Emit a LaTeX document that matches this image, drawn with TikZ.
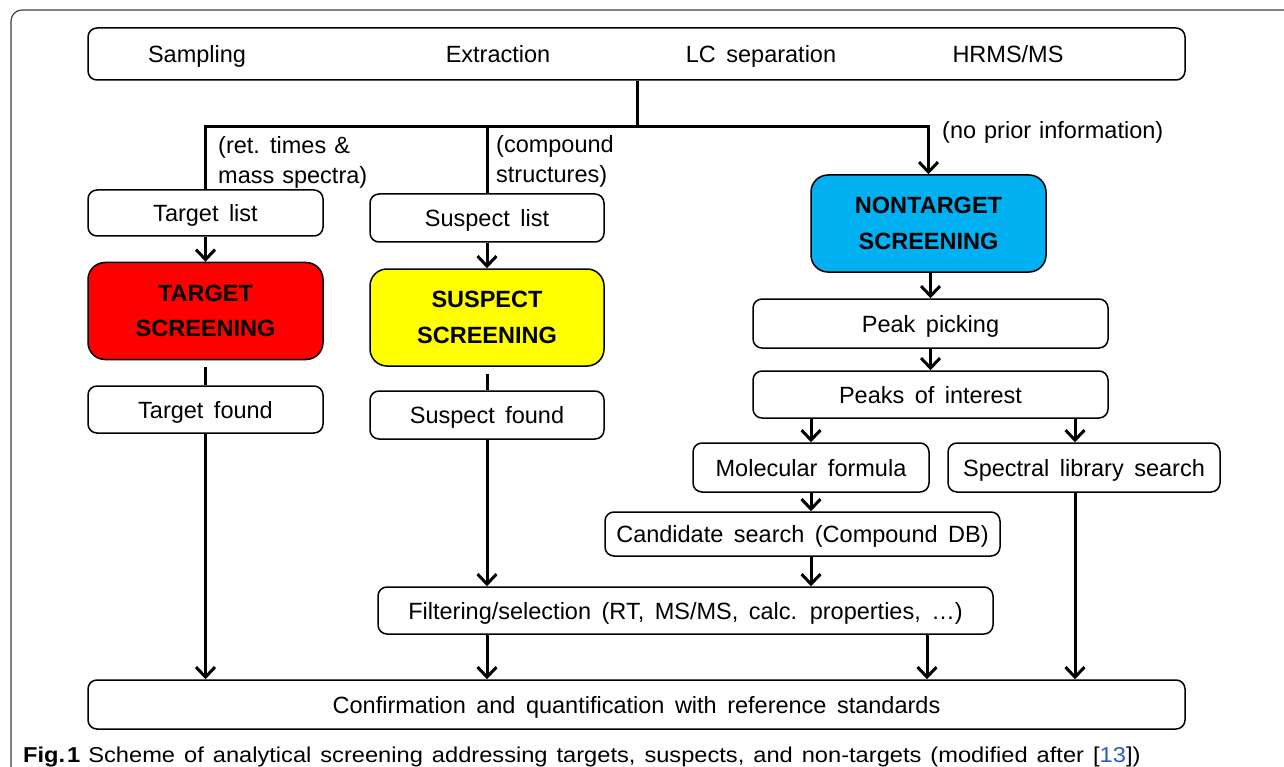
\documentclass[tikz,border=0pt]{standalone}
\usepackage{fontspec}
\setmainfont{Liberation Sans}
\newfontfamily\capfont[FakeStretch=1.1]{Liberation Sans}
\usetikzlibrary{positioning, arrows.meta}
\definecolor{scrred}{RGB}{255,0,0}
\definecolor{scryellow}{RGB}{255,255,0}
\definecolor{scrblue}{RGB}{0,176,240}
\definecolor{citeblue}{RGB}{40,90,200}
\newcommand{\boxfont}{\fontsize{23.5}{30}\selectfont\spaceskip 10.5pt plus 2pt minus 2pt\relax}
\newcommand{\notefont}{\fontsize{23.5}{30}\selectfont\spaceskip 8pt plus 2pt minus 2pt\relax}
\newcommand{\capsize}{\capfont\fontsize{21.5}{24}\selectfont\spaceskip 9pt plus 2pt minus 2pt\relax}

\begin{document}
\begin{tikzpicture}[x=1pt, y=-1pt,
    every node/.style={font=\boxfont},
    stage/.style={draw, line width=1.5pt, rounded corners=9pt, inner sep=0pt, minimum height=47pt, text height=17pt, text depth=0pt},
    screen/.style={draw, line width=1.5pt, rounded corners=17pt, inner sep=0pt, minimum width=235pt, minimum height=97pt, align=center, font=\fontsize{23.5}{35.5}\selectfont\bfseries},
    lbl/.style={inner sep=0pt, text height=17pt, text depth=0pt},
    note/.style={align=left, anchor=west, inner sep=0pt, font=\notefont},
    flow/.style={line width=3pt},
    flowto/.style={flow, -{Straight Barb[length=10pt, width=19pt]}}]
    \useasboundingbox (0,0) rectangle (1284,767);
    \draw[black!75, line width=1.2pt, rounded corners=11pt] (1300,10) -| (11,790);

    \node[stage, minimum width=1097pt, minimum height=52pt] (chain) at (636.5,54) {};
    \node[lbl] (sampling) at (197,54) {Sampling};
    \node[lbl] (extraction) at (498,54) {Extraction};
    \node[lbl] (lcsep) at (761,54) {LC separation};
    \node[lbl] (hrms) at (1008,54) {HRMS/MS};

    \node[stage, minimum width=235pt, minimum height=46pt] (tlist) at (205.5,213) {Target list};
    \node[screen, fill=scrred] (tscr) at (205.5,311) {TARGET\\SCREENING};
    \node[stage, minimum width=235pt] (tfound) at (205.5,409.5) {Target found};

    \node[stage, minimum width=234pt, minimum height=48pt] (slist) at (487,218) {Suspect list};
    \node[screen, fill=scryellow, minimum width=234pt] (sscr) at (487,317.5) {SUSPECT\\SCREENING};
    \node[stage, minimum width=234pt, minimum height=48pt] (sfound) at (487,415) {Suspect found};

    \node[screen, fill=scrblue] (nts) at (928.5,223.5) {NONTARGET\\SCREENING};
    \node[stage, minimum width=355pt, minimum height=49pt] (peak) at (930.5,323.5) {Peak picking};
    \node[stage, minimum width=355pt] (poi) at (930.5,394.5) {Peaks of interest};
    \node[stage, minimum width=236pt, minimum height=49pt] (molf) at (811,467.5) {Molecular formula};
    \node[stage, minimum width=272pt, minimum height=49pt] (spec) at (1084,467.5) {Spectral library search};
    \node[stage, minimum width=395pt, minimum height=44pt] (cand) at (802.5,534) {Candidate search (Compound DB)};
    \node[stage, minimum width=615pt] (filt) at (685.5,610.5) {Filtering/selection (RT, MS/MS, calc. properties, …)};
    \node[stage, minimum width=1097pt, minimum height=49pt] (conf) at (636.5,704.5) {Confirmation and quantification with reference standards};

    \node[note] (retnote) at (218,162) {(ret. times \&\\mass spectra)};
    \node[note] (cmpnote) at (496,161.5) {(compound\\structures)};
    \node[note, text height=17pt, text depth=4pt] (nonote) at (942,132) {(no prior information)};

    \coordinate (split) at (637,127);
    \coordinate (specx) at (1075,0);
    \coordinate (nontx) at (927,0);

    \draw[flow] (chain.south -| split) -- (split);
    \draw[flow] (split) -| (tlist.north);
    \draw[flow] (split -| slist.north) -- (slist.north);
    \draw[flowto] (split) -| (nts.north);

    \draw[flowto] (tlist) -- (tscr);
    \draw[flow, shorten <=7pt] (tscr) -- (tfound);
    \draw[flowto] (tfound.south) -- (tfound.south |- conf.north);

    \draw[flowto] (slist) -- (sscr);
    \draw[flow, shorten <=7pt] (sscr) -- (sfound);
    \draw[flowto] (sfound.south) -- (sfound.south |- filt.north);
    \draw[flowto] (sfound.south |- filt.south) -- (sfound.south |- conf.north);

    \draw[flowto] (nts.south -| peak.north) -- (peak.north);
    \draw[flowto] (peak) -- (poi);
    \draw[flowto] (poi.south -| molf.north) -- (molf.north);
    \draw[flowto] (poi.south -| specx) -- (spec.north -| specx);
    \draw[flowto] (molf.south) -- (molf.south |- cand.north);
    \draw[flowto] (molf.south |- cand.south) -- (molf.south |- filt.north);
    \draw[flowto] (filt.south -| nontx) -- (conf.north -| nontx);
    \draw[flowto] (spec.south -| specx) -- (conf.north -| specx);

    \node[anchor=base west, inner sep=0pt, font=\capsize] (caption) at (23,762)
        {\textbf{Fig.\hspace{2pt}1}\hspace{8pt}Scheme of analytical screening addressing targets, suspects, and non-targets (modified after [\textcolor{citeblue}{13}])};
\end{tikzpicture}
\end{document}
